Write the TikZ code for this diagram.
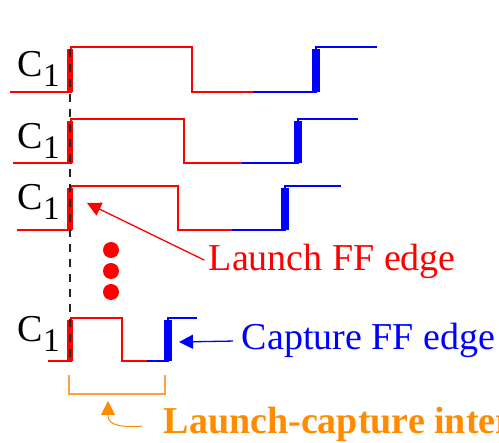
\documentclass[tikz,border=0pt]{standalone}
\usepackage{fontspec}
\setmainfont{Liberation Serif}
\usetikzlibrary{arrows.meta, calc}
\definecolor{cred}{HTML}{FF0000}
\definecolor{cblue}{HTML}{0000FF}
\definecolor{corange}{HTML}{FF8C00}
\definecolor{cbracket}{HTML}{FFA040}
\definecolor{cdash}{HTML}{222222}
\tikzset{
  every picture/.style={x=1pt, y=-1pt, line width=1.6pt},
  lbl/.style={inner sep=0pt, anchor=base west, font=\fontsize{38}{40}\selectfont},
  wave/.style={draw=#1, line join=miter},
  pointer/.style={-{Triangle[length=14pt, width=14pt]}, draw=#1, line width=1.3pt},
}
\newcommand{\clk}{C\raisebox{-10pt}{\fontsize{33}{33}\selectfont 1}}

\begin{document}
\begin{tikzpicture}
  \useasboundingbox (0,0) rectangle (499,443);
  % waveforms: start / low / high / fall / blue from / capture / end
  \foreach \xs/\lo/\hi/\xf/\xb/\xc/\xe in {10/92/47/192/253/316/377, 13/163/119/184/242/298/358,
      17/230/186/178/232/285/341, 48/361/318/122/147/168/197} {
    \draw[wave=cred] (\xs,\lo) -- (71,\lo) -- (71,\hi) -- (\xf,\hi) -- (\xf,\lo) -- (\xb,\lo);
    \draw[wave=cblue] (\xb,\lo) -- (\xc,\lo) -- (\xc,\hi) -- (\xe,\hi);
    \fill[cred] (67,\hi+2) rectangle (73,\lo);
    \fill[cblue] (\xc-4,\hi+2) rectangle (\xc+4,\lo);
  }
  \foreach \y/\n in {77/a, 149/b, 210/c, 342/d}
    \node[lbl] (clk\n) at (17,\y) {\clk};
  \draw[cdash, line width=1.2pt, dash pattern=on 8pt off 7pt] (70,49) -- (70,361);
  \foreach \y in {250,271,292}
    \fill[cred] (111,\y) circle (8pt);
  % labels
  \node[lbl, text=cred] (launch) at (208,271) {Launch FF edge};
  \node[lbl, text=cblue] (capture) at (241,350) {Capture FF edge};
  \node[lbl, text=corange, font=\fontsize{38}{40}\selectfont\bfseries] (interval) at (163,434) {Launch-capture interval};
  \coordinate (ltip) at (87,203);
  \coordinate (ctip) at (179,342);
  \coordinate (otip) at (108,401);
  \draw[pointer=cred, shorten <=4pt] (launch.west) -- (ltip);
  \draw[pointer=cblue, shorten <=8pt] (capture.west) -- (ctip);
  \draw[draw=cbracket, line width=1.3pt] (69,375) -- (69,394) -- (165,394) -- (165,375);
  \draw[pointer=corange, line width=1pt, shorten <=21pt] (interval.west) .. controls (112,428) and (108,422) .. (otip);
\end{tikzpicture}
\end{document}
